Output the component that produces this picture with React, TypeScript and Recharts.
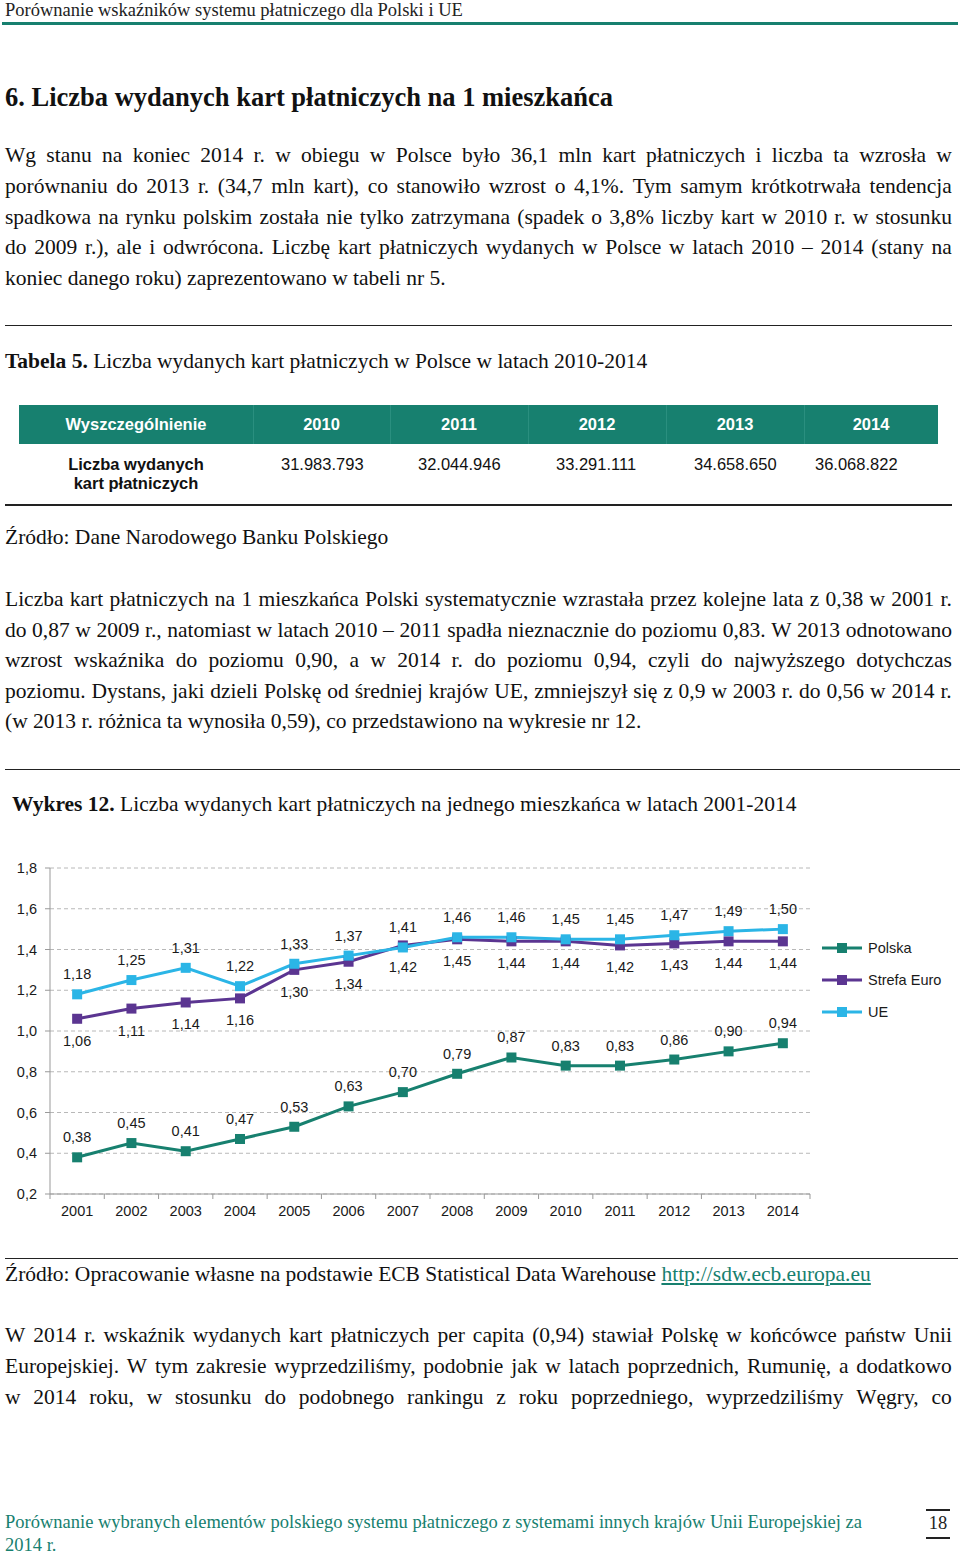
import { LineChart, Line, XAxis, YAxis, CartesianGrid, LabelList } from 'recharts';

const years = ['2001', '2002', '2003', '2004', '2005', '2006', '2007', '2008', '2009', '2010', '2011', '2012', '2013', '2014'];
const polska = [0.38, 0.45, 0.41, 0.47, 0.53, 0.63, 0.70, 0.79, 0.87, 0.83, 0.83, 0.86, 0.90, 0.94];
const strefaEuro = [1.06, 1.11, 1.14, 1.16, 1.30, 1.34, 1.42, 1.45, 1.44, 1.44, 1.42, 1.43, 1.44, 1.44];
const ue = [1.18, 1.25, 1.31, 1.22, 1.33, 1.37, 1.41, 1.46, 1.46, 1.45, 1.45, 1.47, 1.49, 1.50];
const yTicks = [0.2, 0.4, 0.6, 0.8, 1.0, 1.2, 1.4, 1.6, 1.8];

const tableYears = ['2010', '2011', '2012', '2013', '2014'];
const tableValues = ['31.983.793', '32.044.946', '33.291.111', '34.658.650', '36.068.822'];

const series = [
  { key: 'polska', name: 'Polska', color: '#17806f', labelDy: -20 },
  { key: 'strefa', name: 'Strefa Euro', color: '#5b3591', labelDy: 22 },
  { key: 'ue', name: 'UE', color: '#2bb5e6', labelDy: -20 },
];

const chartData = years.map((y, i) => ({ year: y, polska: polska[i], strefa: strefaEuro[i], ue: ue[i] }));

const fmt = (v: number) => v.toFixed(2).replace('.', ',');
const SANS = '"Liberation Sans", Arial, sans-serif';
const SERIF = '"Liberation Serif", "Times New Roman", serif';
const TEAL = '#17806f';
const BODY = 21.5;

function SquareDot(props: any) {
  const { cx, cy, stroke } = props;
  if (cx == null || cy == null) return null;
  return <rect x={cx - 5} y={cy - 5} width={10} height={10} fill={stroke} />;
}

function makeLabel(dy: number) {
  return (props: any) => {
    const { x, y, value } = props;
    return (
      <text x={x} y={y + dy} textAnchor="middle" dominantBaseline="central" fontSize={14.5} fill="#1a1a1a" fontFamily={SANS}>
        {fmt(value)}
      </text>
    );
  };
}

function YearTick(props: any) {
  const { x, y, payload, index } = props;
  const off = payload.offset ?? 27;
  return (
    <g>
      <line x1={x - off} y1={y - 8} x2={x - off} y2={y - 3} stroke="#999" />
      {index === years.length - 1 && <line x1={x + off} y1={y - 8} x2={x + off} y2={y - 3} stroke="#999" />}
      <text x={x} y={y + 9} textAnchor="middle" dominantBaseline="central" fontSize={14.5} fill="#1a1a1a" fontFamily={SANS}>
        {payload.value}
      </text>
    </g>
  );
}

function LegendBox() {
  return (
    <div style={{ position: 'absolute', left: 822, top: 932, fontFamily: SANS, fontSize: 14.5, color: '#1a1a1a' }}>
      {series.map((s) => (
        <div key={s.key} style={{ display: 'flex', alignItems: 'center', height: 32 }}>
          <svg width={44} height={12}>
            <line x1={0} y1={6} x2={40} y2={6} stroke={s.color} strokeWidth={3} />
            <rect x={15} y={1} width={10} height={10} fill={s.color} />
          </svg>
          <span style={{ marginLeft: 2 }}>{s.name}</span>
        </div>
      ))}
    </div>
  );
}

const lineBase: any = {
  position: 'absolute',
  height: 30,
  lineHeight: '30px',
  fontFamily: SERIF,
  fontSize: BODY,
  color: '#111',
  whiteSpace: 'nowrap',
};

function JLine({ top, text, left = 5, width = 947 }: any) {
  const words = text.split(' ');
  return (
    <div style={{ ...lineBase, top, left, width, display: 'flex', justifyContent: 'space-between' }}>
      {words.map((w: string, i: number) => (
        <span key={i}>{w}</span>
      ))}
    </div>
  );
}

function PLine({ top, children, left = 5 }: any) {
  return <div style={{ ...lineBase, top, left }}>{children}</div>;
}

function Rule({ top, left = 5, width = 947, h = 1, color = '#222' }: any) {
  return <div style={{ position: 'absolute', top, left, width, height: h, background: color }} />;
}

const para1 = [
  'Wg stanu na koniec 2014 r. w obiegu w Polsce było 36,1 mln kart płatniczych i liczba ta wzrosła w',
  'porównaniu do 2013 r. (34,7 mln kart), co stanowiło wzrost o 4,1%. Tym samym krótkotrwała tendencja',
  'spadkowa na rynku polskim została nie tylko zatrzymana (spadek o 3,8% liczby kart w 2010 r. w stosunku',
  'do 2009 r.), ale i odwrócona. Liczbę kart płatniczych wydanych w Polsce w latach 2010 – 2014 (stany na',
  'koniec danego roku) zaprezentowano w tabeli nr 5.',
];
const para2 = [
  'Liczba kart płatniczych na 1 mieszkańca Polski systematycznie wzrastała przez kolejne lata z 0,38 w 2001 r.',
  'do 0,87 w 2009 r., natomiast w latach 2010 – 2011 spadła nieznacznie do poziomu 0,83. W 2013 odnotowano',
  'wzrost wskaźnika do poziomu 0,90, a w 2014 r. do poziomu 0,94, czyli do najwyższego dotychczas',
  'poziomu. Dystans, jaki dzieli Polskę od średniej krajów UE, zmniejszył się z 0,9 w 2003 r. do 0,56 w 2014 r.',
  '(w 2013 r. różnica ta wynosiła 0,59), co przedstawiono na wykresie nr 12.',
];
const para3 = [
  'W 2014 r. wskaźnik wydanych kart płatniczych per capita (0,94) stawiał Polskę w końcówce państw Unii',
  'Europejskiej. W tym zakresie wyprzedziliśmy, podobnie jak w latach poprzednich, Rumunię, a dodatkowo',
  'w 2014 roku, w stosunku do podobnego rankingu z roku poprzedniego, wyprzedziliśmy Węgry, co',
];

function Paragraph({ lines, top, step, lastJustified = false }: any) {
  return (
    <>
      {lines.map((t: string, i: number) =>
        i < lines.length - 1 || lastJustified ? (
          <JLine key={i} top={top + i * step} text={t} />
        ) : (
          <PLine key={i} top={top + i * step}>{t}</PLine>
        )
      )}
    </>
  );
}

export default function App() {
  const colEdges = [19, 253, 390, 528, 666, 804, 938];
  return (
    <div style={{ position: 'absolute', left: 0, top: 0, width: 960, height: 1554, background: '#fff', overflow: 'hidden' }}>
      {/* running header */}
      <div style={{ position: 'absolute', top: 0, left: 5, fontFamily: SERIF, fontSize: 18.5, lineHeight: '20px', color: '#222', whiteSpace: 'nowrap' }}>
        Porównanie wskaźników systemu płatniczego dla Polski i UE
      </div>
      <Rule top={22} left={2} width={956} h={3} color={TEAL} />

      <div style={{ position: 'absolute', top: 82, left: 5, fontFamily: SERIF, fontSize: 26.5, fontWeight: 'bold', lineHeight: '30px', color: '#111', whiteSpace: 'nowrap' }}>
        6. Liczba wydanych kart płatniczych na 1 mieszkańca
      </div>

      <Paragraph lines={para1} top={140} step={30.75} />

      <Rule top={325} />
      <PLine top={346}><b>Tabela 5.</b> Liczba wydanych kart płatniczych w Polsce w latach 2010-2014</PLine>

      {/* table */}
      <div style={{ position: 'absolute', top: 405, left: 19, width: 919, height: 39, background: TEAL }} />
      {colEdges.slice(1, -1).map((x) => (
        <div key={x} style={{ position: 'absolute', top: 405, left: x, width: 1, height: 39, background: '#2a8f7f' }} />
      ))}
      {['Wyszczególnienie', ...tableYears].map((t, i) => (
        <div
          key={t}
          style={{
            position: 'absolute', top: 405, left: colEdges[i], width: colEdges[i + 1] - colEdges[i], height: 39,
            lineHeight: '39px', textAlign: 'center', color: '#fff', fontFamily: SANS, fontWeight: 'bold', fontSize: 16.5,
          }}
        >
          {t}
        </div>
      ))}
      <div style={{ position: 'absolute', top: 455, left: 19, width: 234, textAlign: 'center', fontFamily: SANS, fontWeight: 'bold', fontSize: 16.5, lineHeight: '19px', color: '#111' }}>
        Liczba wydanych<br />kart płatniczych
      </div>
      {tableValues.map((v, i) => (
        <div key={v} style={{ position: 'absolute', top: 455, left: [281, 418, 556, 694, 815][i], fontFamily: SANS, fontSize: 16.5, lineHeight: '19px', color: '#111' }}>
          {v}
        </div>
      ))}
      <Rule top={504} h={2} />

      <PLine top={522}>Źródło: Dane Narodowego Banku Polskiego</PLine>

      <Paragraph lines={para2} top={584} step={30.5} />

      <Rule top={769} left={5} width={955} />
      <PLine top={789} left={12}><b>Wykres 12.</b> Liczba wydanych kart płatniczych na jednego mieszkańca w latach 2001-2014</PLine>

      {/* chart */}
      <div style={{ position: 'absolute', top: 850, left: 0, width: 960, height: 380 }}>
        <LineChart width={960} height={380} data={chartData} margin={{ top: 18, right: 150, bottom: 0, left: 0 }}>
          <CartesianGrid vertical={false} stroke="#b8b8b8" strokeDasharray="4 3" />
          <XAxis
            dataKey="year"
            scale="band"
            height={36}
            tickLine={false}
            axisLine={{ stroke: '#999' }}
            tick={<YearTick />}
            interval={0}
          />
          <YAxis
            width={50}
            domain={[0.2, 1.8]}
            ticks={yTicks}
            tickFormatter={(v: number) => v.toFixed(1).replace('.', ',')}
            axisLine={{ stroke: '#999' }}
            tickLine={{ stroke: '#999' }}
            tickSize={5}
            tickMargin={8}
            tick={{ fontSize: 14.5, fill: '#1a1a1a', fontFamily: SANS }}
          />
          {series.map((s) => (
            <Line
              key={s.key}
              dataKey={s.key}
              name={s.name}
              stroke={s.color}
              strokeWidth={3}
              dot={<SquareDot />}
              activeDot={false}
              isAnimationActive={false}
            >
              <LabelList dataKey={s.key} content={makeLabel(s.labelDy)} />
            </Line>
          ))}
        </LineChart>
      </div>
      <LegendBox />

      <Rule top={1258} left={5} width={953} />
      <PLine top={1259}>
        Źródło: Opracowanie własne na podstawie ECB Statistical Data Warehouse{' '}
        <span style={{ color: TEAL, textDecoration: 'underline' }}>http://sdw.ecb.europa.eu</span>
      </PLine>

      <Paragraph lines={para3} top={1320} step={30.75} lastJustified />

      {/* footer */}
      <div style={{ position: 'absolute', top: 1511, left: 5, width: 900, fontFamily: SERIF, fontSize: 18.5, lineHeight: '23px', color: TEAL, whiteSpace: 'nowrap' }}>
        Porównanie wybranych elementów polskiego systemu płatniczego z systemami innych krajów Unii Europejskiej za<br />2014 r.
      </div>
      <Rule top={1509} left={926} width={24} h={2} />
      <div style={{ position: 'absolute', top: 1513, left: 926, width: 24, textAlign: 'center', fontFamily: SERIF, fontSize: 18.5, lineHeight: '20px', color: '#222' }}>18</div>
      <Rule top={1537} left={926} width={24} h={2} />
    </div>
  );
}
